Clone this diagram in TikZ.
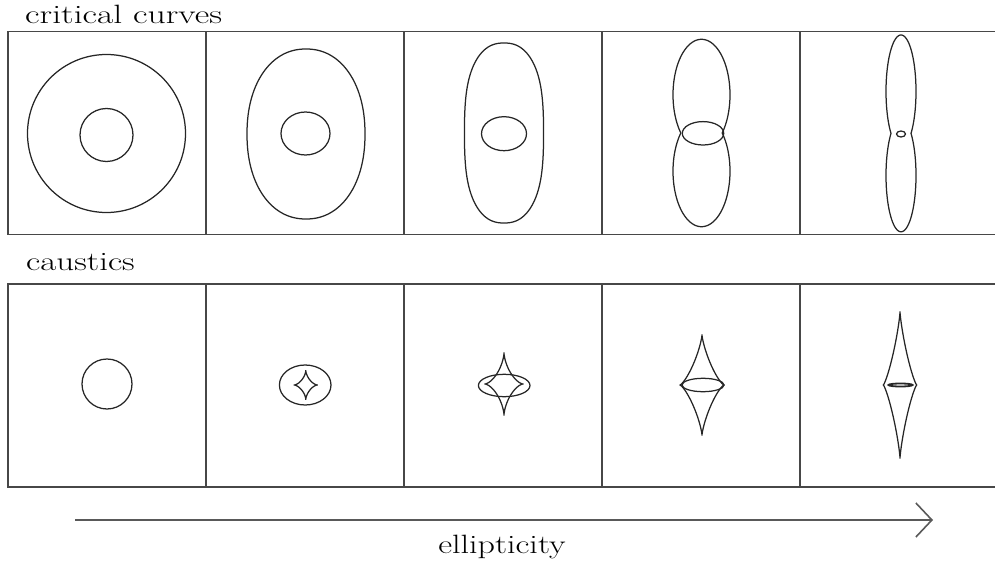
\documentclass[tikz,border=0pt]{standalone}
\usepackage{graphicx}
\usetikzlibrary{arrows.meta}
\tikzset{
  boxline/.style={draw=black!72, line width=1.7pt},
  crv/.style={draw=black!85, line width=1.25pt},
  txt/.style={inner sep=0pt, text=black, font=\fontsize{26.5}{30}\selectfont},
  arrline/.style={draw=black!65, line width=1.8pt, -{Straight Barb[length=16pt,width=34pt,line width=1.6pt]}},
}
% superellipse-like curve: cx cy A B exponent
\newcommand\superell[6][]{%
  \draw[crv,#1] plot[domain=1:361, samples=181]
    ({#2+#4*cos(\x)*pow(abs(cos(\x)),#6-1)}, {#3+#5*sin(\x)*pow(abs(sin(\x)),#6-1)}) -- cycle;
}
% two elliptic lobes joined at a waist: cx cy A B d
\newcommand\lobepair[5]{%
  \pgfmathsetmacro\lbt{asin(#5/#4)}%
  \pgfmathsetmacro\lba{-180-\lbt}%
  \pgfmathsetmacro\lbc{-\lbt}%
  \pgfmathsetmacro\lbd{180+\lbt}%
  \draw[crv] plot[domain=\lba:\lbt, samples=120] ({#1+#3*cos(\x)}, {#2-#5+#4*sin(\x)})
    -- plot[domain=\lbc:\lbd, samples=120] ({#1+#3*cos(\x)}, {#2+#5+#4*sin(\x)}) -- cycle;
}
\begin{document}
\begin{tikzpicture}[x=1pt, y=-1pt]
\useasboundingbox (0,0) rectangle (995,564);

% labels
\node[txt, anchor=base west] (lblcrit) at (25,23.5) {\scalebox{1.344}[1]{critical curves}};
\node[txt, anchor=base west] (lblcaus) at (26,270.5) {\scalebox{1.32}[1]{caustics}};
\node[txt, anchor=base] (lblell) at (502,553) {\scalebox{1.285}[1]{ellipticity}};

% frames
\draw[boxline] (997,31.5) -- (8,31.5) -- (8,234.5) -- (997,234.5);
\foreach \xx in {206,404,602,800} \draw[boxline] (\xx,31.5) -- (\xx,234.5);
\draw[boxline] (997,284) -- (8,284) -- (8,487) -- (997,487);
\foreach \xx in {206,404,602,800} \draw[boxline] (\xx,284) -- (\xx,487);

% critical curves
\draw[crv] (106.5,133.5) circle[radius=79];
\draw[crv] (106.5,135) circle[radius=26.5];

\superell{306}{134}{59}{85}{0.93}
\draw[crv] (305.5,133.5) ellipse[x radius=24.5, y radius=21.5];

\draw[crv] plot[domain=1:361, samples=181]
  ({504+41*(1-0.035*pow(abs(cos(\x)),8))*cos(\x)*pow(abs(cos(\x)),-0.16)}, {133+90*sin(\x)*pow(abs(sin(\x)),-0.16)}) -- cycle;
\draw[crv] (504,133.7) ellipse[x radius=22.5, y radius=17];

\lobepair{701.5}{133}{28.5}{55.5}{38.2}
\draw[crv] (703,133.3) ellipse[x radius=20.7, y radius=11.7];

\lobepair{901}{133.4}{15}{56.4}{42}
\draw[crv] (901,134) ellipse[x radius=4.5, y radius=3];

% caustics
\draw[crv] (107,384) circle[radius=25];

\draw[crv] (305.2,385) ellipse[x radius=25.8, y radius=20];
\superell{305.8}{385}{11.5}{14.3}{3}

\draw[crv] (504.2,385.5) ellipse[x radius=25.8, y radius=11.2];
\superell{504}{384}{19}{31}{3}

\superell{702}{385}{22}{50}{2.6}
\draw[crv] (703,385) ellipse[x radius=21, y radius=6.7];

\superell{900}{385}{16.7}{73}{2.5}
\draw[crv, line width=1.8pt] (900.5,385) ellipse[x radius=12, y radius=1.5];

% arrow
\coordinate (arrS) at (75,520);
\coordinate (arrE) at (933,520);
\draw[arrline] (arrS) -- (arrE);
\end{tikzpicture}
\end{document}
